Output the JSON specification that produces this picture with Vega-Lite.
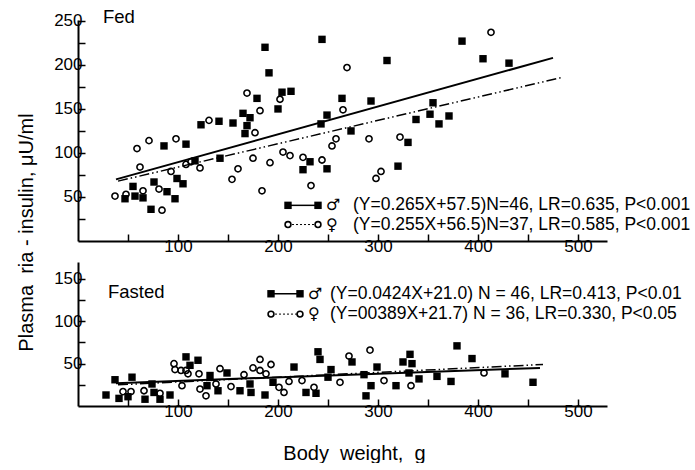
{
  "$schema": "https://vega.github.io/schema/vega-lite/v6.json",
  "padding": {"left": 16, "top": 8, "right": 0, "bottom": 0},
  "bounds": "flush",
  "spacing": 21,
  "config": {
    "view": {"stroke": null},
    "font": "Liberation Sans",
    "axis": {
      "domainColor": "black", "domainWidth": 2, "tickColor": "black", "tickWidth": 1.5, "tickSize": -7,
      "labelFont": "Liberation Sans", "labelFontSize": 17, "labelColor": "black", "grid": false,
      "titleFont": "Liberation Sans", "titleFontSize": 20, "titleFontWeight": "normal", "titleColor": "black"
    }
  },
  "datasets": {
    "fed": [
      {"sex":"M","wt":47,"ins":48},{"sex":"M","wt":55,"ins":62},{"sex":"M","wt":57,"ins":51},{"sex":"M","wt":65,"ins":49},
      {"sex":"M","wt":73,"ins":36},{"sex":"M","wt":76,"ins":67},{"sex":"M","wt":86,"ins":108},{"sex":"M","wt":89,"ins":56},
      {"sex":"M","wt":97,"ins":48},{"sex":"M","wt":99,"ins":71},{"sex":"M","wt":105,"ins":65},{"sex":"M","wt":108,"ins":110},
      {"sex":"M","wt":117,"ins":91},{"sex":"M","wt":123,"ins":132},{"sex":"M","wt":141,"ins":136},{"sex":"M","wt":155,"ins":134},
      {"sex":"M","wt":142,"ins":94},{"sex":"M","wt":165,"ins":145},{"sex":"M","wt":169,"ins":131},{"sex":"M","wt":172,"ins":140},
      {"sex":"M","wt":167,"ins":122},{"sex":"M","wt":187,"ins":220},{"sex":"M","wt":179,"ins":162},{"sex":"M","wt":191,"ins":191},
      {"sex":"M","wt":200,"ins":150},{"sex":"M","wt":204,"ins":169},{"sex":"M","wt":213,"ins":170},{"sex":"M","wt":244,"ins":229},
      {"sex":"M","wt":243,"ins":133},{"sex":"M","wt":249,"ins":143},{"sex":"M","wt":264,"ins":162},{"sex":"M","wt":273,"ins":125},
      {"sex":"M","wt":225,"ins":81},{"sex":"M","wt":232,"ins":90},{"sex":"M","wt":249,"ins":82},{"sex":"M","wt":309,"ins":205},
      {"sex":"M","wt":293,"ins":159},{"sex":"M","wt":384,"ins":227},{"sex":"M","wt":405,"ins":207},{"sex":"M","wt":431,"ins":202},
      {"sex":"M","wt":355,"ins":157},{"sex":"M","wt":352,"ins":144},{"sex":"M","wt":338,"ins":138},{"sex":"M","wt":361,"ins":133},
      {"sex":"M","wt":371,"ins":142},{"sex":"M","wt":330,"ins":112},{"sex":"M","wt":320,"ins":85},
      {"sex":"F","wt":37,"ins":51},{"sex":"F","wt":48,"ins":53},{"sex":"F","wt":59,"ins":105},{"sex":"F","wt":62,"ins":84},
      {"sex":"F","wt":65,"ins":57},{"sex":"F","wt":71,"ins":114},{"sex":"F","wt":81,"ins":59},{"sex":"F","wt":84,"ins":35},
      {"sex":"F","wt":93,"ins":79},{"sex":"F","wt":98,"ins":116},{"sex":"F","wt":108,"ins":87},{"sex":"F","wt":113,"ins":90},
      {"sex":"F","wt":122,"ins":83},{"sex":"F","wt":131,"ins":137},{"sex":"F","wt":154,"ins":70},{"sex":"F","wt":160,"ins":82},
      {"sex":"F","wt":169,"ins":168},{"sex":"F","wt":175,"ins":94},{"sex":"F","wt":177,"ins":123},{"sex":"F","wt":182,"ins":148},
      {"sex":"F","wt":184,"ins":57},{"sex":"F","wt":192,"ins":89},{"sex":"F","wt":202,"ins":161},{"sex":"F","wt":205,"ins":101},
      {"sex":"F","wt":212,"ins":97},{"sex":"F","wt":225,"ins":95},{"sex":"F","wt":233,"ins":63},{"sex":"F","wt":244,"ins":92},
      {"sex":"F","wt":254,"ins":108},{"sex":"F","wt":258,"ins":116},{"sex":"F","wt":265,"ins":149},{"sex":"F","wt":269,"ins":197},
      {"sex":"F","wt":291,"ins":116},{"sex":"F","wt":298,"ins":71},{"sex":"F","wt":303,"ins":79},{"sex":"F","wt":322,"ins":118},
      {"sex":"F","wt":413,"ins":237}
    ],
    "fasted": [
      {"sex":"M","wt":28,"ins":13},{"sex":"M","wt":37,"ins":31},{"sex":"M","wt":41,"ins":9},{"sex":"M","wt":50,"ins":11},
      {"sex":"M","wt":54,"ins":34},{"sex":"M","wt":67,"ins":8},{"sex":"M","wt":74,"ins":26},{"sex":"M","wt":76,"ins":16},
      {"sex":"M","wt":82,"ins":8},{"sex":"M","wt":92,"ins":13},{"sex":"M","wt":108,"ins":58},{"sex":"M","wt":112,"ins":48},
      {"sex":"M","wt":120,"ins":54},{"sex":"M","wt":132,"ins":36},{"sex":"M","wt":129,"ins":24},{"sex":"M","wt":140,"ins":18},
      {"sex":"M","wt":149,"ins":39},{"sex":"M","wt":162,"ins":18},{"sex":"M","wt":173,"ins":16},{"sex":"M","wt":172,"ins":26},
      {"sex":"M","wt":187,"ins":13},{"sex":"M","wt":195,"ins":28},{"sex":"M","wt":216,"ins":46},{"sex":"M","wt":228,"ins":16},
      {"sex":"M","wt":238,"ins":15},{"sex":"M","wt":240,"ins":64},{"sex":"M","wt":242,"ins":55},{"sex":"M","wt":253,"ins":43},
      {"sex":"M","wt":250,"ins":34},{"sex":"M","wt":274,"ins":52},{"sex":"M","wt":299,"ins":46},{"sex":"M","wt":286,"ins":37},
      {"sex":"M","wt":288,"ins":12},{"sex":"M","wt":293,"ins":24},{"sex":"M","wt":318,"ins":24},{"sex":"M","wt":325,"ins":52},
      {"sex":"M","wt":332,"ins":61},{"sex":"M","wt":334,"ins":50},{"sex":"M","wt":331,"ins":39},{"sex":"M","wt":341,"ins":32},
      {"sex":"M","wt":359,"ins":35},{"sex":"M","wt":373,"ins":29},{"sex":"M","wt":379,"ins":71},{"sex":"M","wt":394,"ins":56},
      {"sex":"M","wt":427,"ins":38},{"sex":"M","wt":455,"ins":28},
      {"sex":"F","wt":45,"ins":17},{"sex":"F","wt":53,"ins":17},{"sex":"F","wt":66,"ins":18},{"sex":"F","wt":82,"ins":15},
      {"sex":"F","wt":96,"ins":50},{"sex":"F","wt":97,"ins":43},{"sex":"F","wt":104,"ins":24},{"sex":"F","wt":103,"ins":42},
      {"sex":"F","wt":108,"ins":42},{"sex":"F","wt":110,"ins":38},{"sex":"F","wt":121,"ins":38},{"sex":"F","wt":122,"ins":20},
      {"sex":"F","wt":128,"ins":12},{"sex":"F","wt":138,"ins":26},{"sex":"F","wt":142,"ins":44},{"sex":"F","wt":153,"ins":23},
      {"sex":"F","wt":166,"ins":37},{"sex":"F","wt":175,"ins":45},{"sex":"F","wt":182,"ins":55},{"sex":"F","wt":182,"ins":42},
      {"sex":"F","wt":188,"ins":38},{"sex":"F","wt":193,"ins":49},{"sex":"F","wt":201,"ins":22},{"sex":"F","wt":206,"ins":16},
      {"sex":"F","wt":211,"ins":29},{"sex":"F","wt":224,"ins":30},{"sex":"F","wt":236,"ins":22},{"sex":"F","wt":262,"ins":28},
      {"sex":"F","wt":271,"ins":59},{"sex":"F","wt":292,"ins":66},{"sex":"F","wt":306,"ins":30},{"sex":"F","wt":333,"ins":24},
      {"sex":"F","wt":406,"ins":39}
    ],
    "fedLines": [
      {"sex":"M","wt":38,"ins":70},{"sex":"M","wt":475,"ins":208},
      {"sex":"F","wt":40,"ins":68},{"sex":"F","wt":485,"ins":186}
    ],
    "fastedLines": [
      {"sex":"M","wt":38,"ins":27},{"sex":"M","wt":462,"ins":45},
      {"sex":"F","wt":40,"ins":25},{"sex":"F","wt":465,"ins":49}
    ],
    "fedKey": [
      {"sex":"M","wt":210,"ins":40.5},{"sex":"M","wt":240,"ins":40.5},
      {"sex":"F","wt":210,"ins":18.7},{"sex":"F","wt":240,"ins":18.7}
    ],
    "fedText": [
      {"wt":248,"ins":40.5,"sym":"♂","label":"(Y=0.265X+57.5)N=46, LR=0.635, P<0.001"},
      {"wt":248,"ins":18.7,"sym":"♀","label":"(Y=0.255X+56.5)N=37, LR=0.585, P<0.001"}
    ],
    "fedTitle": [{"wt":25,"ins":254,"label":"Fed"}],
    "fastedKey": [
      {"sex":"M","wt":193,"ins":132.5},{"sex":"M","wt":222,"ins":132.5},
      {"sex":"F","wt":193,"ins":108.5},{"sex":"F","wt":222,"ins":108.5}
    ],
    "fastedText": [
      {"wt":230,"ins":132.5,"sym":"♂","label":"(Y=0.0424X+21.0) N = 46, LR=0.413,  P<0.01"},
      {"wt":230,"ins":108.5,"sym":"♀","label":"(Y=00389X+21.7) N = 36, LR=0.330,  P<0.05"}
    ],
    "fastedTitle": [{"wt":30,"ins":134.6,"label":"Fasted"}]
  },
  "vconcat": [
    {
      "width": 529, "height": 221,
      "encoding": {
        "x": {"field": "wt", "type": "quantitative",
          "scale": {"domain": [0, 529], "nice": false, "zero": false},
          "axis": {"title": null, "values": [50,100,150,200,250,300,350,400,450,500],
            "labelExpr": "datum.value % 100 === 0 ? datum.label : ''", "labelPadding": 4}},
        "y": {"field": "ins", "type": "quantitative",
          "scale": {"domain": [0, 251], "nice": false},
          "axis": {"title": "Plasma\u00a0\u00a0ria\u00a0-\u00a0insulin,\u00a0μU/ml",
            "values": [25,50,75,100,125,150,175,200,225,250],
            "labelExpr": "datum.value % 50 === 0 ? datum.label : ''", "labelPadding": 3,
            "titleX": -52, "titleY": 212, "titleAngle": -90, "titleAlign": "center", "titleBaseline": "middle"}}
      },
      "layer": [
        {"data": {"name": "fed"}, "transform": [{"filter": "datum.sex === 'F'"}],
          "mark": {"type": "point", "shape": "circle", "filled": false, "stroke": "black", "strokeWidth": 1.6, "size": 38, "opacity": 1}},
        {"data": {"name": "fed"}, "transform": [{"filter": "datum.sex === 'M'"}],
          "mark": {"type": "point", "shape": "square", "filled": true, "fill": "black", "size": 55, "opacity": 1}},
        {"data": {"name": "fedLines"}, "transform": [{"filter": "datum.sex === 'M'"}],
          "mark": {"type": "line", "color": "black", "strokeWidth": 2}},
        {"data": {"name": "fedLines"}, "transform": [{"filter": "datum.sex === 'F'"}],
          "mark": {"type": "line", "color": "black", "strokeWidth": 1.5, "strokeDash": [10, 3, 1.5, 3, 1.5, 3]}},
        {"data": {"name": "fedKey"}, "transform": [{"filter": "datum.sex === 'M'"}],
          "mark": {"type": "line", "color": "black", "strokeWidth": 1.5}},
        {"data": {"name": "fedKey"}, "transform": [{"filter": "datum.sex === 'F'"}],
          "mark": {"type": "line", "color": "black", "strokeWidth": 1, "strokeDash": [2, 2]}},
        {"data": {"name": "fedKey"}, "transform": [{"filter": "datum.sex === 'M'"}],
          "mark": {"type": "point", "shape": "square", "filled": true, "fill": "black", "size": 55, "opacity": 1}},
        {"data": {"name": "fedKey"}, "transform": [{"filter": "datum.sex === 'F'"}],
          "mark": {"type": "point", "shape": "circle", "filled": true, "fill": "white", "stroke": "black", "strokeWidth": 1.6, "size": 34, "opacity": 1}},
        {"data": {"name": "fedText"},
          "mark": {"type": "text", "align": "left", "baseline": "middle", "font": "Liberation Sans", "fontSize": 17.5, "color": "black", "dx": 27},
          "encoding": {"text": {"field": "label"}}},
        {"data": {"name": "fedText"},
          "mark": {"type": "text", "align": "left", "baseline": "middle", "font": "DejaVu Sans", "fontSize": 16, "color": "black"},
          "encoding": {"text": {"field": "sym"}}},
        {"data": {"name": "fedTitle"},
          "mark": {"type": "text", "align": "left", "baseline": "middle", "font": "Liberation Sans", "fontSize": 18.5, "color": "black"},
          "encoding": {"text": {"field": "label"}}}
      ]
    },
    {
      "width": 529, "height": 144,
      "encoding": {
        "x": {"field": "wt", "type": "quantitative",
          "scale": {"domain": [0, 529], "nice": false, "zero": false},
          "axis": {"title": "Body\u00a0\u00a0weight,\u00a0\u00a0g", "values": [50,100,150,200,250,300,350,400,450,500],
            "labelExpr": "datum.value % 100 === 0 ? datum.label : ''", "labelPadding": 4,
            "titlePadding": 24, "titleX": 276, "titleAlign": "center"}},
        "y": {"field": "ins", "type": "quantitative",
          "scale": {"domain": [0, 170], "nice": false},
          "axis": {"title": null, "values": [25,50,75,100,125,150],
            "labelExpr": "datum.value % 50 === 0 ? datum.label : ''", "labelPadding": 3}}
      },
      "layer": [
        {"data": {"name": "fasted"}, "transform": [{"filter": "datum.sex === 'F'"}],
          "mark": {"type": "point", "shape": "circle", "filled": false, "stroke": "black", "strokeWidth": 1.6, "size": 38, "opacity": 1}},
        {"data": {"name": "fasted"}, "transform": [{"filter": "datum.sex === 'M'"}],
          "mark": {"type": "point", "shape": "square", "filled": true, "fill": "black", "size": 55, "opacity": 1}},
        {"data": {"name": "fastedLines"}, "transform": [{"filter": "datum.sex === 'M'"}],
          "mark": {"type": "line", "color": "black", "strokeWidth": 2}},
        {"data": {"name": "fastedLines"}, "transform": [{"filter": "datum.sex === 'F'"}],
          "mark": {"type": "line", "color": "black", "strokeWidth": 1.5, "strokeDash": [10, 3, 1.5, 3, 1.5, 3]}},
        {"data": {"name": "fastedKey"}, "transform": [{"filter": "datum.sex === 'M'"}],
          "mark": {"type": "line", "color": "black", "strokeWidth": 1.5}},
        {"data": {"name": "fastedKey"}, "transform": [{"filter": "datum.sex === 'F'"}],
          "mark": {"type": "line", "color": "black", "strokeWidth": 1, "strokeDash": [2, 2]}},
        {"data": {"name": "fastedKey"}, "transform": [{"filter": "datum.sex === 'M'"}],
          "mark": {"type": "point", "shape": "square", "filled": true, "fill": "black", "size": 55, "opacity": 1}},
        {"data": {"name": "fastedKey"}, "transform": [{"filter": "datum.sex === 'F'"}],
          "mark": {"type": "point", "shape": "circle", "filled": true, "fill": "white", "stroke": "black", "strokeWidth": 1.6, "size": 34, "opacity": 1}},
        {"data": {"name": "fastedText"},
          "mark": {"type": "text", "align": "left", "baseline": "middle", "font": "Liberation Sans", "fontSize": 17.5, "color": "black", "dx": 22},
          "encoding": {"text": {"field": "label"}}},
        {"data": {"name": "fastedText"},
          "mark": {"type": "text", "align": "left", "baseline": "middle", "font": "DejaVu Sans", "fontSize": 16, "color": "black"},
          "encoding": {"text": {"field": "sym"}}},
        {"data": {"name": "fastedTitle"},
          "mark": {"type": "text", "align": "left", "baseline": "middle", "font": "Liberation Sans", "fontSize": 18.5, "color": "black"},
          "encoding": {"text": {"field": "label"}}}
      ]
    }
  ]
}
